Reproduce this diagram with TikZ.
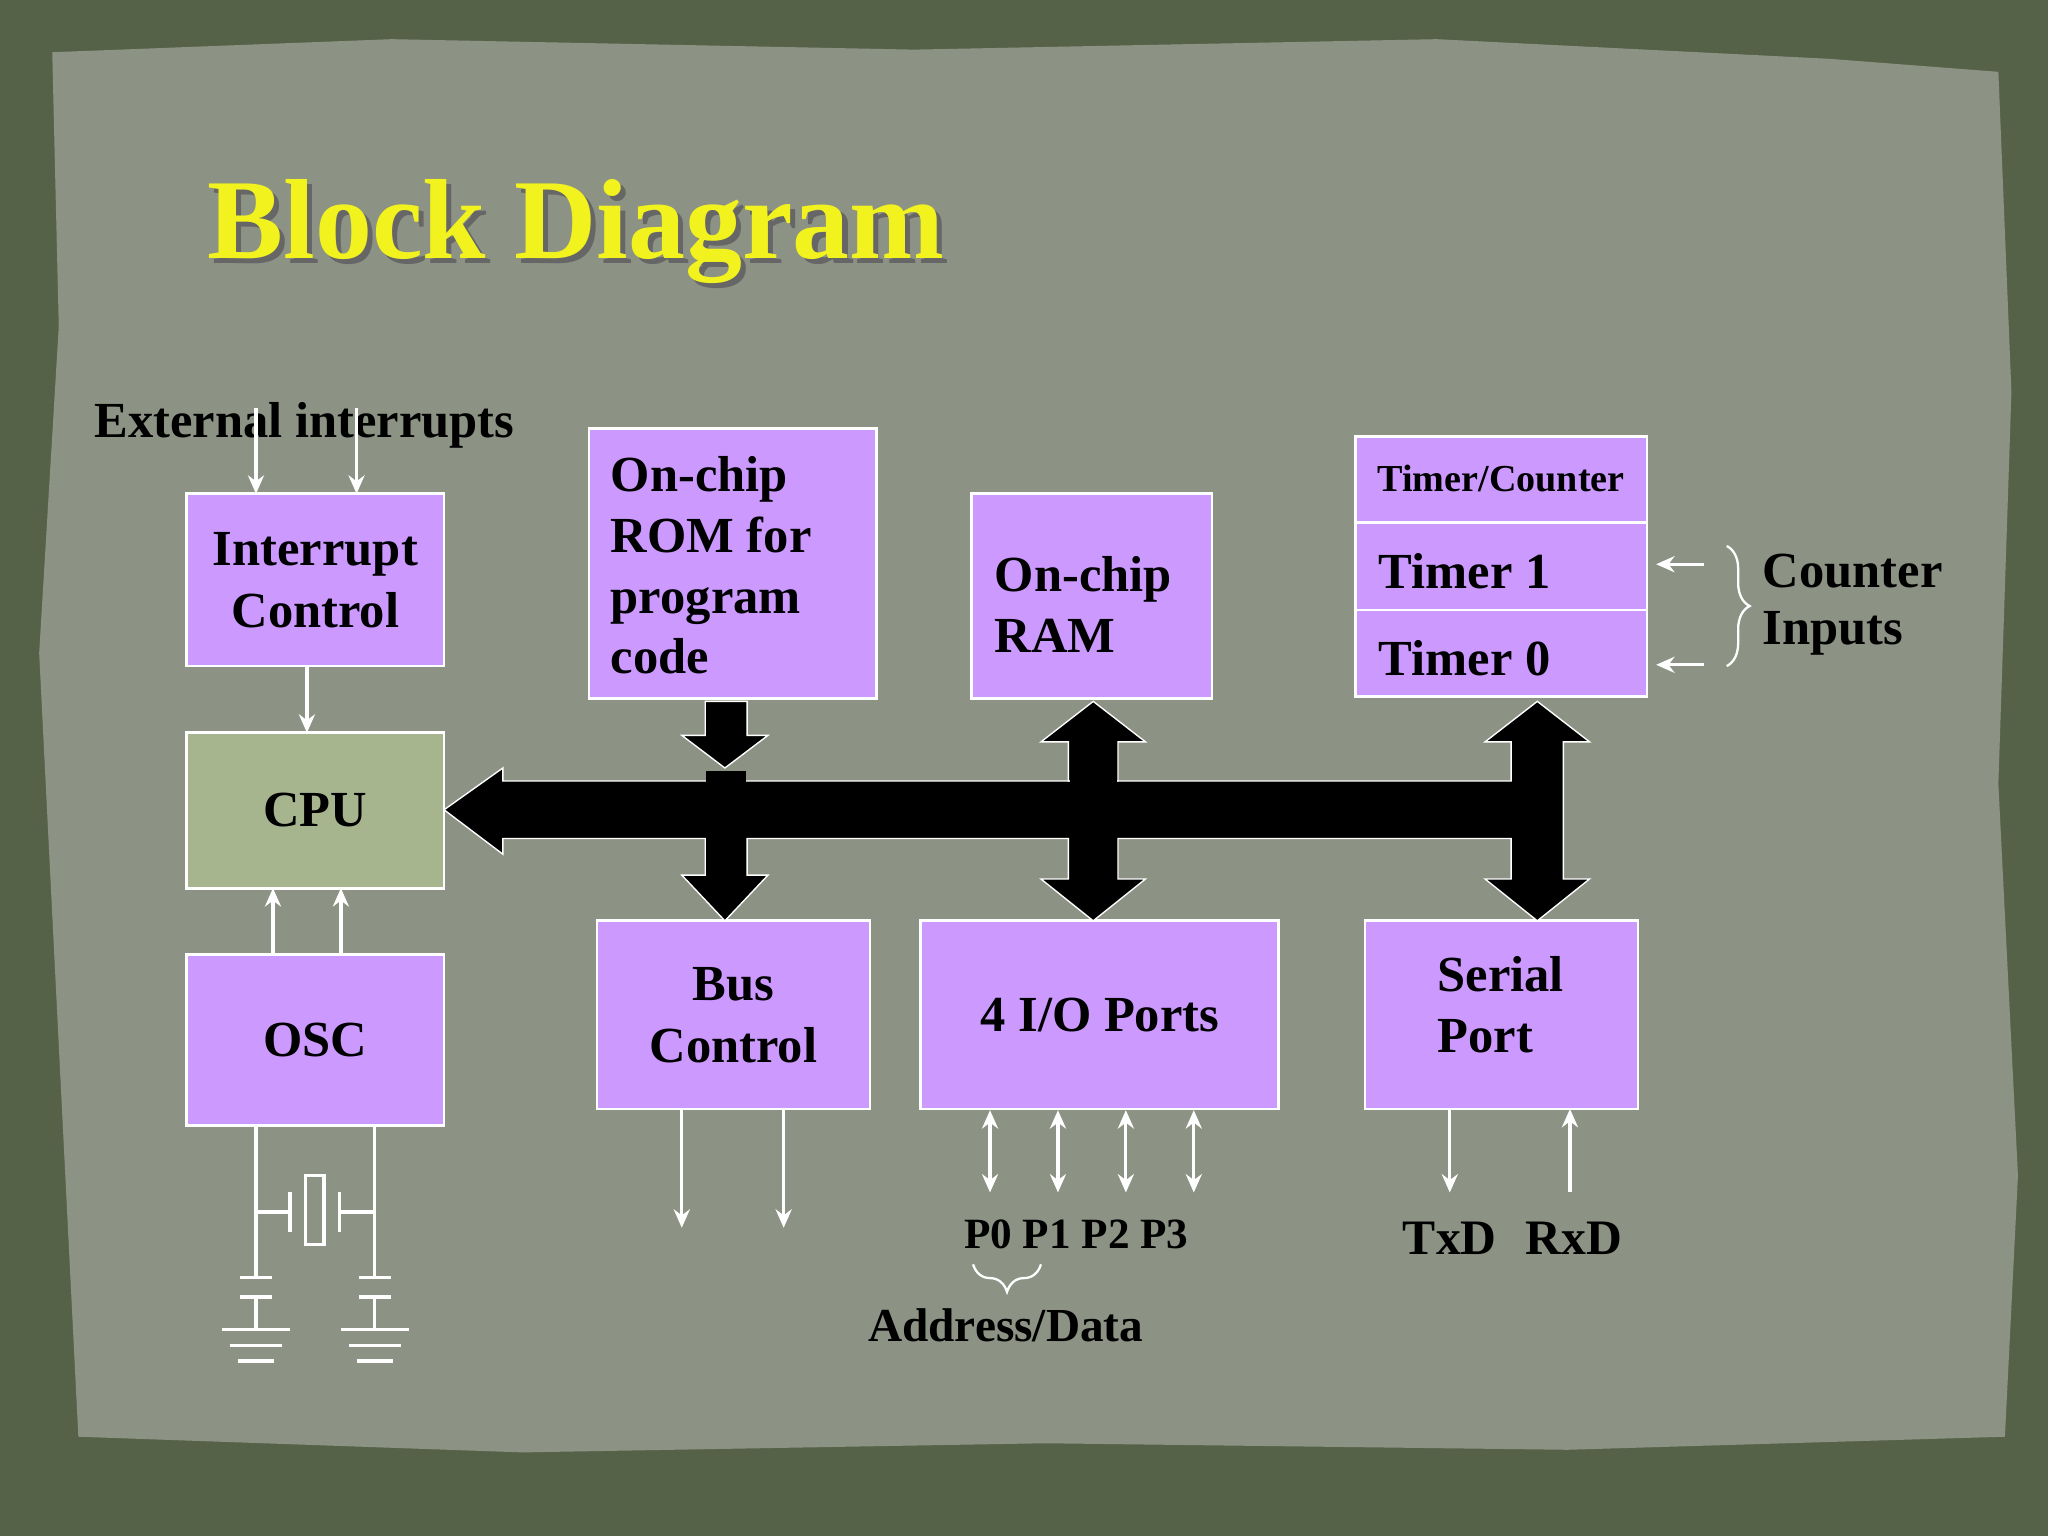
\documentclass[tikz,border=0pt]{standalone}
\usepackage{fontspec}
\setmainfont{Liberation Serif}
\usetikzlibrary{arrows.meta,decorations.pathreplacing,calc}
\definecolor{outer}{HTML}{566248}
\definecolor{paper}{HTML}{8C9284}
\definecolor{lav}{HTML}{CC99FF}
\definecolor{cpuc}{HTML}{A7B58F}
\definecolor{ttl}{HTML}{F2F21E}
\begin{document}
\begin{tikzpicture}[x=0.01cm,y=-0.01cm,
  box/.style={draw=white,line width=0.6pt,fill=lav,inner sep=0pt},
  lbl/.style={font=\bfseries\fontsize{11}{13.2}\selectfont,align=left,text=black,inner sep=0pt},
  clbl/.style={font=\bfseries\fontsize{11}{13.5}\selectfont,align=center,text=black},
  wa/.style={draw=white,line width=0.7pt,-{Stealth[length=4pt,width=3.5pt]}},
  wd/.style={draw=white,line width=0.7pt,{Stealth[length=4pt,width=3.5pt]}-{Stealth[length=4pt,width=3.5pt]}},
  wl/.style={draw=white,line width=0.7pt},
  bus/.style={fill=black,draw=white,line width=0.3pt}]
\useasboundingbox (0,0) rectangle (1568,1176);
\fill[outer] (0,0) rectangle (1568,1176);
\fill[paper] (40,40) -- (300,30) -- (700,38) -- (1100,30) -- (1400,45) -- (1530,55) -- (1540,300) -- (1530,600) -- (1545,900) -- (1535,1100) -- (1200,1110) -- (800,1105) -- (400,1112) -- (60,1100) -- (45,800) -- (30,500) -- (45,250) -- cycle;
\node[font=\bfseries\fontsize{24.8}{28}\selectfont,text=black!60] at (445,181) {Block Diagram};
\node[font=\bfseries\fontsize{24.8}{28}\selectfont,text=ttl] (title) at (441,177) {Block Diagram};

% boxes
\draw[box] (143,378) rectangle (340,510) node[midway,clbl] (ic) {Interrupt\\Control};
\draw[draw=white,line width=0.6pt,fill=cpuc] (143,561) rectangle (340,680) node[midway,clbl] (cpu) {CPU};
\draw[box] (143,731) rectangle (340,862) node[midway,clbl] (osc) {OSC};
\draw[box] (451,328) rectangle (671,535);
\node[lbl,anchor=west] (rom) at (467,433) {On-chip\\ROM for\\program\\code};
\draw[box] (744,378) rectangle (928,535);
\node[lbl,anchor=west] (ram) at (761,463) {On-chip\\RAM};
\draw[box] (1038,334) rectangle (1261,400);
\node[font=\bfseries\fontsize{8.3}{9}\selectfont,anchor=west,inner sep=0pt] (tc) at (1054,366) {Timer/Counter};
\draw[box] (1038,400) rectangle (1261,467);
\node[lbl,anchor=west] (t1) at (1055,437) {Timer 1};
\draw[box] (1038,467) rectangle (1261,533);
\node[lbl,anchor=west] (t0) at (1055,504) {Timer 0};
\draw[box] (457,705) rectangle (666,849) node[midway,clbl] (bc) {Bus\\Control};
\draw[box] (705,705) rectangle (979,849) node[midway,clbl] (io) {4 I/O Ports};
\draw[box] (1045,705) rectangle (1254,849);
\node[lbl,anchor=west] (sp) at (1100,769) {Serial\\Port};

% bus
\draw[bus] (340,620) -- (385,588) -- (385,598) -- (1157,598) -- (1157,568) -- (1137,568) -- (1177,537) -- (1217,568) -- (1197,568) -- (1197,673) -- (1217,673) -- (1177,705) -- (1137,673) -- (1157,673) -- (1157,642) -- (856,642) -- (856,673) -- (877,673) -- (837,705) -- (797,673) -- (818,673) -- (818,642) -- (572,642) -- (572,670) -- (588,670) -- (555,705) -- (522,670) -- (540,670) -- (540,642) -- (385,642) -- (385,654) -- cycle;
\draw[bus] (818,598) -- (818,568) -- (797,568) -- (837,537) -- (877,568) -- (856,568) -- (856,598) -- cycle;
\fill (819,590) rectangle (855,600);
\draw[bus] (540,537) -- (572,537) -- (572,563) -- (588,563) -- (555,588) -- (522,563) -- (540,563) -- cycle;
\fill (540.5,590) rectangle (571.5,600);

% thin arrows
\node[font=\bfseries\fontsize{11}{12}\selectfont] (ext) at (233,326) {External interrupts};
\draw[wa] (196,312) -- (196,378);
\draw[wa] (273,312) -- (273,378);
\draw[wa] (235,510) -- (235,561);
\draw[wa] (209,731) -- (209,680);
\draw[wa] (261,731) -- (261,680);
\draw[wa] (522,849) -- (522,940);
\draw[wa] (600,849) -- (600,940);
\foreach \x in {758,810,862,914} \draw[wd] (\x,850) -- (\x,913);
\draw[wa] (1110,849) -- (1110,913);
\draw[wa] (1202,913) -- (1202,849);
\draw[wa] (1305,432) -- (1268,432);
\draw[wa] (1305,509) -- (1268,509);
\draw[draw=white,line width=0.5pt,decorate,decoration={brace,amplitude=5pt}] (1322,418) -- (1322,510);
\node[font=\bfseries\fontsize{11}{12.5}\selectfont,align=left,anchor=west,inner sep=0pt] (ci) at (1349,463) {Counter\\Inputs};
\node[font=\bfseries\fontsize{9.4}{11}\selectfont] (ports) at (824,945) {P0 P1 P2 P3};
\draw[draw=white,line width=0.5pt,decorate,decoration={brace,amplitude=6pt,mirror}] (745,968) -- (797,968);
\node[font=\bfseries\fontsize{10.3}{11}\selectfont] (ad) at (770,1015) {Address/Data};
\node[font=\bfseries\fontsize{10.8}{12}\selectfont] (txd) at (1110,948) {TxD};
\node[font=\bfseries\fontsize{10.8}{12}\selectfont] (rxd) at (1205,948) {RxD};

% crystal and caps
\draw[wl] (196,862) -- (196,978);
\draw[wl] (287,862) -- (287,978);
\draw[wl] (196,928) -- (222,928);
\draw[wl] (222,913) -- (222,943);
\draw[wl] (234,900) rectangle (248,953);
\draw[wl] (260,913) -- (260,943);
\draw[wl] (260,928) -- (287,928);
\foreach \x in {196,287}{
  \draw[wl] (\x-12,978) -- (\x+12,978);
  \draw[wl] (\x-12,993) -- (\x+12,993);
  \draw[wl] (\x,993) -- (\x,1018);
  \draw[wl] (\x-26,1018) -- (\x+26,1018);
  \draw[wl] (\x-20,1030) -- (\x+20,1030);
  \draw[wl] (\x-14,1042) -- (\x+14,1042);
}
\end{tikzpicture}
\end{document}
